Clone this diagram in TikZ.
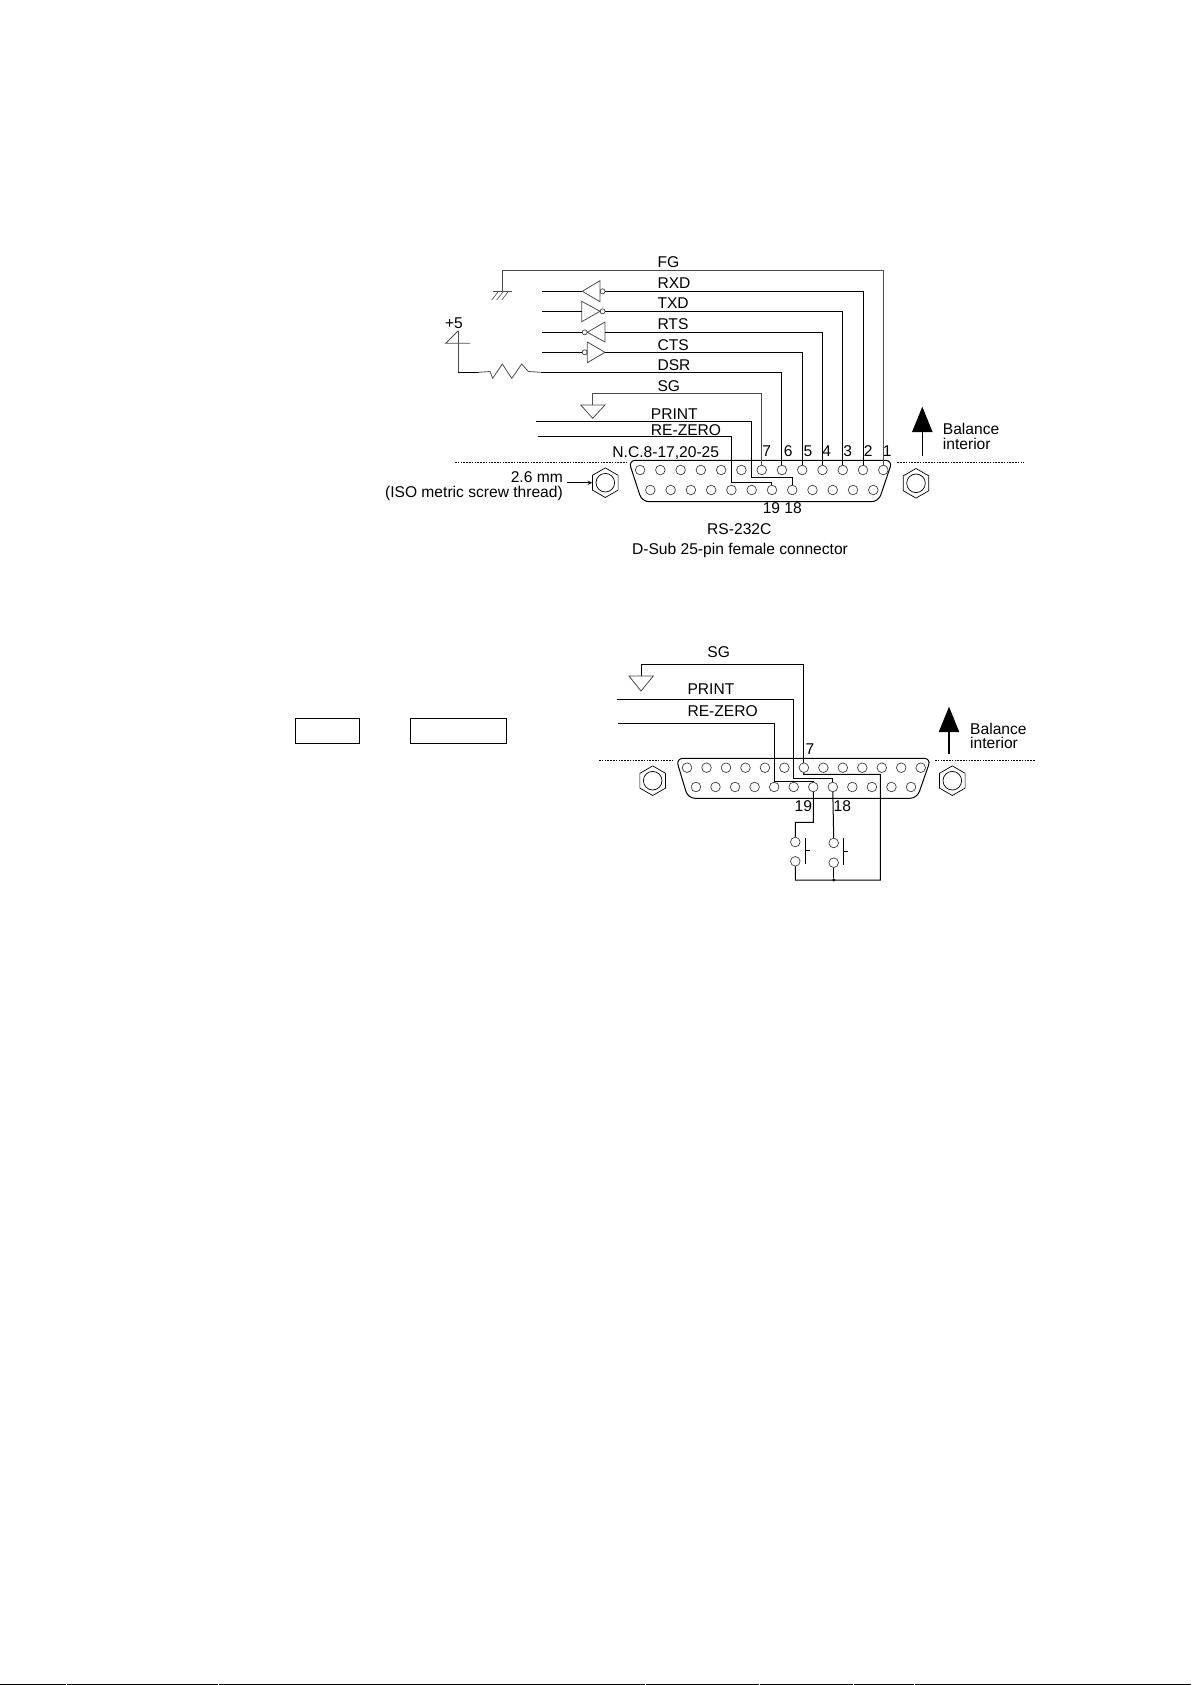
\documentclass[tikz,border=0pt]{standalone}
\usepackage{fontspec}
\setmainfont{Liberation Sans}
\usetikzlibrary{arrows.meta,shapes.geometric}

\tikzset{
    wire/.style={black, line width=1pt},
    thinwire/.style={black!70, line width=0.8pt},
    socket/.style={circle, draw=black!75, line width=0.7pt, inner sep=0pt, minimum size=9.6pt},
    nut/.style={regular polygon, regular polygon sides=6, shape border rotate=30, draw=black, line width=0.7pt, inner sep=0pt, minimum size=29.6pt},
    nuthole/.style={circle, draw=black, line width=0.7pt, inner sep=0pt, minimum size=18.6pt},
    bubble/.style={circle, draw=black!75, line width=0.7pt, inner sep=0pt, minimum size=5pt},
    lbl/.style={inner sep=0pt, text height=11.2pt, text depth=0pt, font=\fontsize{15.6}{17}\selectfont},
    panelline/.style={black, line width=0.9pt, dash pattern=on 1.6pt off 1.2pt},
    bigarrow/.style={-{Triangle[length=25.5pt,width=20.4pt]}, line width=1.3pt}
}

\begin{document}
\begin{tikzpicture}[x=1pt, y=-1pt]
    \useasboundingbox (0,0) rectangle (1191,1685);

    % Sockets of the upper connector
    \foreach \n in {1,...,13}
        \node[socket] (a\n) at ({883.3-20.27*(\n-1)},470) {};
    \foreach \n in {14,...,25}
        \node[socket] (a\n) at ({873.3-20.27*(\n-14)},490) {};

    % Upper connector outline and panel edge
    \draw[black, line width=1pt, rounded corners=7pt] (628.5,460.3) -- (892.5,460.3) -- (878.5,501.7) -- (642,501.7) -- cycle;
    \draw[panelline] (455,462) -- (627,462);
    \draw[panelline] (897.3,462) -- (1024,462);

    % Mounting nuts
    \node[nut] (nutA) at (605.3,482.7) {};
    \node[nuthole] (holeA) at (nutA) {};
    \node[nut] (nutB) at (916,483.3) {};
    \node[nuthole] (holeB) at (nutB) {};
    \draw[->, >=stealth, wire] (567.3,482.7) -- (nutA.west);

    % Frame ground
    \coordinate (gndFG) at (502,291.3);
    \draw[thinwire] (gndFG) -- (502,270.3) -| (a1.north);
    \draw[thinwire] (492.7,291.3) -- (512,291.3);
    \foreach \x in {498.3,503.3,508.3}
        \draw[black!70, line width=0.6pt] (\x,291.6) -- (\x-6.6,300);

    % Line drivers
    \coordinate (rxdL) at (542.3,291.3);
    \coordinate (rxdT) at (582.3,291.3);
    \node[bubble] (rxdB) at (602.6,291.3) {};
    \draw[thinwire] (rxdT) -- (600,280.7) -- (600,301.7) -- cycle;
    \draw[wire] (rxdL) -- (rxdT);
    \draw[wire] (rxdB.east) -| (a2.north);

    \coordinate (txdL) at (542.3,311.3);
    \coordinate (txdT) at (581.7,311.3);
    \node[bubble] (txdB) at (602.6,311.3) {};
    \draw[thinwire] (txdT) -- (581.7,301.3) -- (600,311.3) -- (581.7,321.7) -- cycle;
    \draw[wire] (txdL) -- (txdT);
    \draw[wire] (txdB.east) -| (a3.north);

    \coordinate (rtsL) at (542.3,332.3);
    \coordinate (rtsT) at (605,332.3);
    \node[bubble] (rtsB) at (584.7,332.3) {};
    \draw[thinwire] (587.3,332.3) -- (605,322) -- (605,342) -- cycle;
    \draw[wire] (rtsL) -- (rtsB.west);
    \draw[wire] (rtsT) -| (a4.north);

    \coordinate (ctsL) at (542.3,352.3);
    \coordinate (ctsT) at (605,352.3);
    \node[bubble] (ctsB) at (584.7,352.3) {};
    \draw[thinwire] (587.3,342) -- (605,352.3) -- (587.3,362.7) -- cycle;
    \draw[wire] (ctsL) -- (ctsB.west);
    \draw[wire] (ctsT) -| (a5.north);

    % +5 pull-up on DSR
    \coordinate (vccT) at (458.3,330.7);
    \coordinate (resL) at (478.7,372.3);
    \coordinate (resR) at (540.7,372.3);
    \draw[thinwire] (vccT) -- (445.7,343.3) -- (470,343.3);
    \draw[thinwire] (vccT) -- (458.3,372.3);
    \draw[wire] (458.3,372.3) -- (resL);
    \draw[thinwire] (resL) -- (490,371.5) -- (492.7,378.3) -- (502.3,364) -- (511.7,378.3) -- (521.7,364) -- (528.3,371.5) -- (resR);
    \draw[wire] (resR) -| (a6.north);

    % Signal ground and external lines
    \coordinate (sgA) at (592.3,405);
    \draw[thinwire] (sgA) -- (592.3,393.3) -| (a7.north);
    \draw[thinwire] (580.7,405) -- (605,405) -- (592.7,418.3) -- cycle;
    \coordinate (printA) at (536.3,421.7);
    \coordinate (zeroA) at (537.7,436.3);
    \draw[wire] (printA) -| (751.3,477.3) -| (a18.north);
    \draw[wire] (zeroA) -| (731,482.3) -| (a19.north);

    % Upper labels
    \node[lbl, anchor=west] (fgT) at (657.3,262) {FG};
    \node[lbl, anchor=west] (rxdN) at (657.3,282.7) {RXD};
    \node[lbl, anchor=west] (txdN) at (657.3,303.3) {TXD};
    \node[lbl, anchor=west] (rtsN) at (657.3,324) {RTS};
    \node[lbl, anchor=west] (ctsN) at (657.3,344.7) {CTS};
    \node[lbl, anchor=west] (dsrN) at (657.3,365.3) {DSR};
    \node[lbl, anchor=west] (sgN) at (657.3,385.7) {SG};
    \node[lbl, anchor=west] (printN) at (650.7,414) {PRINT};
    \node[lbl, anchor=west] (zeroN) at (650.7,429.7) {RE-ZERO};
    \node[lbl, anchor=east] (ncN) at (719.3,452) {N.C.8-17,20-25};
    \node[lbl] (vccN) at (454,323) {+5};
    \foreach \n/\x in {7/766.7,6/788.3,5/808,4/826.7,3/847.7,2/868.3,1/887.3}
        \node[lbl] (num\n) at (\x,450.7) {\n};
    \node[lbl] (numLow) at (782.3,508.3) {19 18};
    \node[lbl] (rsN) at (739.3,528.7) {RS-232C};
    \node[lbl] (dsubN) at (740,549.3) {D-Sub 25-pin female connector};
    \node[lbl, anchor=east] (sizeN) at (563,476.7) {2.6 mm};
    \node[lbl, anchor=east] (isoN) at (563,492.3) {(ISO metric screw thread)};

    % Balance interior arrow
    \coordinate (upA) at (922.3,456);
    \coordinate (upB) at (922.3,406.7);
    \draw[bigarrow] (upA) -- (upB);
    \node[lbl, anchor=west] (balA) at (942.7,428.7) {Balance};
    \node[lbl, anchor=west] (intA) at (942.7,444) {interior};

    % Empty boxes
    \node[draw, line width=1pt, inner sep=0pt, minimum width=64pt, minimum height=25pt] (boxA) at (327.3,730.8) {};
    \node[draw, line width=1pt, inner sep=0pt, minimum width=95.6pt, minimum height=25pt] (boxB) at (458.5,730.8) {};

    % Sockets of the lower connector
    \foreach \n in {1,...,13}
        \node[socket] (b\n) at ({920.7-19.47*(\n-1)},767.7) {};
    \foreach \n in {14,...,25}
        \node[socket] (b\n) at ({911-19.55*(\n-14)},787) {};

    % Lower connector outline and panel edge
    \draw[black, line width=1pt, rounded corners=7pt] (676,758.3) -- (931,758.3) -- (917,798.3) -- (688,798.3) -- cycle;
    \draw[panelline] (599,760) -- (674.3,760);
    \draw[panelline] (935,760) -- (1035,760);
    \node[nut] (nutC) at (652.7,780.7) {};
    \node[nuthole] (holeC) at (nutC) {};
    \node[nut] (nutD) at (952.3,780.7) {};
    \node[nuthole] (holeD) at (nutD) {};

    % Push switches
    \node[socket] (swA) at (795.3,842) {};
    \node[socket] (swB) at (795.3,861.3) {};
    \node[socket] (swC) at (833.7,843) {};
    \node[socket] (swD) at (833.7,862.7) {};
    \draw[wire] (805,838.3) -- (805,864);
    \draw[wire] (805,850) -- (810,850);
    \draw[wire] (843.3,838.3) -- (843.3,864.7);
    \draw[wire] (843.3,851) -- (848.3,851);
    \node[circle, fill=black, inner sep=0pt, minimum size=3.4pt] (tie) at (833.7,880) {};

    % Lower wiring
    \coordinate (sgB) at (641.7,676);
    \coordinate (printB) at (616.7,699.3);
    \coordinate (zeroB) at (618.3,723.7);
    \draw[wire] (sgB) -- (641.7,664.3) -| (b7.north);
    \draw[thinwire] (629,676) -- (653.3,676) -- (641,691) -- cycle;
    \draw[wire] (printB) -| (793.3,778.3) -| (b18.north);
    \draw[wire] (zeroB) -| (774.3,781) -| (b19.north);
    \draw[wire] (b7.south) -- (803.7,774.3) -- (880.3,774.3) -- (880.3,880) -| (swB.south);
    \draw[wire] (swD.south) -- (tie);
    \draw[wire] (b18.south) -- (swC.north);
    \draw[wire] (b19.south) -- (813.3,822.3) -| (swA.north);

    % Lower labels
    \node[lbl] (sgM) at (718.7,652) {SG};
    \node[lbl, anchor=west] (printM) at (687.3,688.7) {PRINT};
    \node[lbl, anchor=west] (zeroM) at (687.3,711) {RE-ZERO};
    \node[lbl] (sevenM) at (810,749.3) {7};
    \node[lbl] (nineteenM) at (803.3,805.7) {19};
    \node[lbl] (eighteenM) at (842.3,805.7) {18};

    % Balance interior arrow, lower drawing
    \coordinate (upC) at (949,754);
    \coordinate (upD) at (949,706.7);
    \draw[bigarrow] (upC) -- (upD);
    \node[lbl, anchor=west] (balB) at (970,729) {Balance};
    \node[lbl, anchor=west] (intB) at (970,743.3) {interior};

    % Rule along the bottom edge
    \foreach \xa/\xb in {0/65.5,66.5/218,219/645,646/759,760/853,854/914,915/1191}
        \draw[black, line width=1.3pt] (\xa,1684.3) -- (\xb,1684.3);
\end{tikzpicture}
\end{document}
